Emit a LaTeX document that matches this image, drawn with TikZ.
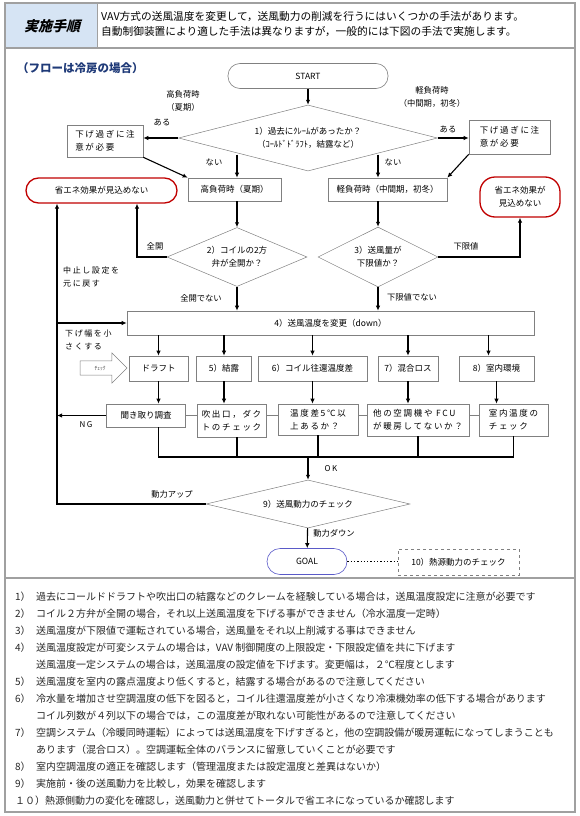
\documentclass[tikz,border=0pt]{standalone}
\usepackage{fontspec}
\setmainfont{Noto Sans CJK JP}
\newfontfamily\spaced{Noto Sans CJK JP}[LetterSpace=20]
\newfontfamily\titlefont{Noto Sans CJK JP}[FakeSlant=0.25]
\usetikzlibrary{arrows.meta,shapes.geometric,shapes.arrows}

\definecolor{frame}{HTML}{A0A0A0}
\definecolor{boxline}{HTML}{808080}
\definecolor{warnred}{HTML}{C00000}
\definecolor{goalblue}{HTML}{5A5AC8}
\definecolor{navy}{HTML}{1F3A78}
\definecolor{headbg}{HTML}{D6E4F4}

\newcommand{\numlbl}[1]{\makebox[21pt][l]{#1}}

\tikzset{
  box/.style={draw=boxline, line width=0.6pt, fill=white, inner sep=2pt,
    font=\fontsize{8.5}{13}\selectfont, align=center},
  boxsp/.style={box, font=\spaced\fontsize{8.5}{13}\selectfont, align=left},
  decision/.style={diamond, draw=boxline, line width=0.5pt, inner sep=0pt,
    font=\fontsize{8.5}{13}\selectfont, align=center},
  terminal/.style={draw=boxline, line width=0.6pt, rounded corners=12pt,
    font=\fontsize{8.5}{12}\selectfont},
  noeffect/.style={draw=warnred, line width=1.3pt, rounded corners=12.5pt,
    font=\fontsize{8.5}{13}\selectfont, align=center},
  flow/.style={line width=1.1pt},
  tie/.style={draw=boxline, line width=0.5pt},
  lbl/.style={font=\fontsize{8.3}{13}\selectfont, align=center, inner sep=1pt},
  lblsp/.style={lbl, font=\spaced\fontsize{8}{13}\selectfont},
  note/.style={anchor=west, inner sep=0pt, text=black!85,
    font=\fontsize{10}{12}\selectfont}
}

\begin{document}
\begin{tikzpicture}[x=1pt,y=-1pt,>={Latex[length=5pt,width=4.5pt]}]
\useasboundingbox (0,0) rectangle (580,816);
\fill[headbg] (5,3) rectangle (97,48);
\draw[frame, line width=1.2pt] (5,3) rectangle (575,812);
\draw[frame, line width=1.2pt] (5,48) -- (575,48);
\draw[frame, line width=1.2pt] (5,578) -- (575,578);
\draw[frame, line width=1pt] (97,3) -- (97,48);

\node[font=\titlefont\bfseries\fontsize{14}{16}\selectfont] (title) at (52,26) {実施手順};
\node[anchor=west, inner sep=0pt, align=left, font=\fontsize{10.7}{15}\selectfont] (intro) at (101,24.5)
  {VAV方式の送風温度を変更して，送風動力の削減を行うにはいくつかの手法があります。\\
   自動制御装置により適した手法は異なりますが，一般的には下図の手法で実施します。};
\node[anchor=west, inner sep=0pt, text=navy, font=\fontsize{11.5}{13}\selectfont\bfseries] (case) at (17,68)
  {（フローは冷房の場合）};

\node[terminal, minimum width=160pt, minimum height=25pt] (start) at (308,76) {START};
\node[decision, aspect=3.9, minimum width=259pt, minimum height=66pt] (q1) at (308,138)
  {1）過去にｸﾚｰﾑがあったか？\\（ｺｰﾙﾄﾞﾄﾞﾗﾌﾄ，結露など）};
\node[boxsp, minimum width=76pt, minimum height=32pt] (overL) at (105,141) {下げ過ぎに注\\意が必要};
\node[boxsp, minimum width=81pt, minimum height=34pt] (overR) at (509.5,137) {下げ過ぎに注\\意が必要};
\node[box, minimum width=93pt, minimum height=23pt] (high) at (234.5,189.5) {高負荷時（夏期）};
\node[box, minimum width=119pt, minimum height=23pt] (light) at (387.5,189.5) {軽負荷時（中間期，初冬）};
\node[noeffect, minimum width=151pt, minimum height=25pt] (lossL) at (101.5,190.5) {省エネ効果が見込めない};
\node[noeffect, minimum width=80pt, minimum height=40pt, rounded corners=15pt] (lossR) at (520,197)
  {省エネ効果が\\見込めない};
\node[decision, aspect=2.4, minimum width=140pt, minimum height=59pt] (q2) at (237,257) {2）コイルの2方\\弁が全開か？};
\node[decision, aspect=2, minimum width=120pt, minimum height=60pt] (q3) at (378,257) {3）送風量が\\下限値か？};
\node[box, minimum width=407pt, minimum height=24pt] (lower) at (330.5,323) {4）送風温度を変更（down）};

\node[single arrow, draw=boxline, line width=0.5pt, minimum height=47pt,
  single arrow head extend=8pt, inner xsep=2pt, inner ysep=4.5pt,
  text=black!70, font=\fontsize{5.5}{6}\selectfont] (chk) at (100,368) {ﾁｪｯｸ};
\node[box, minimum width=59pt, minimum height=25pt] (draft) at (158.5,368.5) {ドラフト};
\node[box, minimum width=55pt, minimum height=25pt] (dew) at (224,368.5) {5）結露};
\node[box, minimum width=109pt, minimum height=25pt] (coil) at (312.5,368.5) {6）コイル往還温度差};
\node[box, minimum width=60pt, minimum height=25pt] (mix) at (408,368.5) {7）混合ロス};
\node[box, minimum width=75pt, minimum height=25pt] (room) at (496.5,368.5) {8）室内環境};

\node[box, minimum width=79pt, minimum height=23pt] (hear) at (146,415.5) {聞き取り調査};
\node[boxsp, minimum width=69pt, minimum height=33pt] (duct) at (231.5,420.5) {吹出口，ダク\\トのチェック};
\node[boxsp, minimum width=80pt, minimum height=31pt] (dtemp) at (318,419.5) {温度差5℃以\\上あるか？};
\node[boxsp, minimum width=102pt, minimum height=32pt] (heating) at (418,420) {他の空調機や FCU\\が暖房してないか？};
\node[boxsp, minimum width=69pt, minimum height=32pt] (roomchk) at (513.5,420) {室内温度の\\チェック};

\coordinate (join) at (308,457);
\coordinate (rail) at (57,504);
\node[decision, aspect=4.25, minimum width=204pt, minimum height=48pt] (q9) at (308,504) {9）送風動力のチェック};
\node[terminal, draw=goalblue, minimum width=80pt, minimum height=26pt, rounded corners=13pt] (goal) at (307,561.5) {GOAL};
\node[box, dashed, minimum width=121pt, minimum height=26pt] (heatsrc) at (458.5,562) {10）熱源動力のチェック};

\draw[flow,->] (start) -- (q1);
\draw[flow,->] (q1.west) -- (q1.west -| overL.east);
\draw[flow,->] (q1.east) -- (q1.east -| overR.west);
\draw[flow,->] (q2 |- q1.south west) -- (q2 |- high.north);
\draw[flow,->] (q3 |- q1.south east) -- (q3 |- light.north);
\draw[flow,->] (overL.south east) -- (high.north west);
\draw[flow,->] (overR.south west) -- (light.north east);
\draw[flow,->] (q2 |- high.south) -- (q2);
\draw[flow,->] (q3 |- light.south) -- (q3);
\draw[flow,->] (q2.west) -| ([xshift=35.5pt]lossL.south);
\draw[flow,->] (q3.east) -| (lossR.south);
\draw[flow,->] (q2.south) -- (q2.south |- lower.north);
\draw[flow,->] (q3.south) -- (q3.south |- lower.north);
\draw[flow,->] (q9.west) -- (rail) -- (rail |- lossL.south);
\draw[flow,->] (rail |- lower.west) -- (lower.west);
\draw[flow,->] (hear.west) -- (hear.west -| rail);

\foreach \n in {draft,dew,coil,mix}
  \draw[flow,->] (\n.north |- lower.south) -- (\n.north);
\draw[flow,->] ([xshift=-8pt]room.north |- lower.south) -- ([xshift=-8pt]room.north);
\draw[flow,->] (draft) -- (draft |- hear.north);
\draw[flow,->] (dew) -- (dew |- duct.north);
\draw[flow,->] (coil) -- (coil |- dtemp.north);
\draw[flow,->] (mix) -- (mix |- heating.north);
\draw[flow,->] (room) -- (room |- roomchk.north);

\draw[tie] (hear.east) -- (hear.east -| duct.west);
\draw[tie] (hear.east -| duct.east) -- (hear.east -| dtemp.west);
\draw[tie] (hear.east -| dtemp.east) -- (hear.east -| heating.west);
\draw[tie] (hear.east -| heating.east) -- (hear.east -| roomchk.west);

\draw[flow] (draft |- hear.south) |- (join) -| (roomchk.south);
\draw[flow] (q2 |- duct.south) -- (q2 |- join);
\draw[flow] (dtemp.south) -- (dtemp.south |- join);
\draw[flow] (heating.south) -- (heating.south |- join);
\draw[flow,->] (join) -- (q9);
\draw[flow,->] (q9) -- (goal);
\draw[line width=1.3pt, dotted] (goal.east) -- (goal.east -| heatsrc.west);

\node[lbl] (hiload) at (183,100.5) {高負荷時\\（夏期）};
\node[lbl] (yesL) at (162,122) {ある};
\node[lbl] (loload) at (432,97) {軽負荷時\\（中間期，初冬）};
\node[lbl] (yesR) at (448,129) {ある};
\node[lbl] (noL) at (214,162) {ない};
\node[lbl] (noR) at (393,162) {ない};
\node[lbl] (fullL) at (155,246) {全開};
\node[lbl] (limit) at (466,246) {下限値};
\node[lblsp, anchor=west, align=left] (undo) at (62,276.5) {中止し設定を\\元に戻す};
\node[lbl] (notfull) at (201,298) {全開でない};
\node[lbl] (notlimit) at (412,297) {下限値でない};
\node[lblsp, anchor=west, align=left] (smaller) at (64,339.5) {下げ幅を小\\さくする};
\node[lblsp] (ng) at (86,425) {NG};
\node[lblsp] (ok) at (331,469) {OK};
\node[lbl] (up) at (172,494) {動力アップ};
\node[lbl] (down) at (334,533) {動力ダウン};

\foreach \t [count=\i] in {
  {\numlbl{1）}過去にコールドドラフトや吹出口の結露などのクレームを経験している場合は，送風温度設定に注意が必要です},
  {\numlbl{2）}コイル２方弁が全開の場合，それ以上送風温度を下げる事ができません（冷水温度一定時）},
  {\numlbl{3）}送風温度が下限値で運転されている場合，送風量をそれ以上削減する事はできません},
  {\numlbl{4）}送風温度設定が可変システムの場合は，VAV 制御開度の上限設定・下限設定値を共に下げます},
  {\hspace*{21pt}送風温度一定システムの場合は，送風温度の設定値を下げます。変更幅は，２℃程度とします},
  {\numlbl{5）}送風温度を室内の露点温度より低くすると，結露する場合があるので注意してください},
  {\numlbl{6）}冷水量を増加させ空調温度の低下を図ると，コイル往還温度差が小さくなり冷凍機効率の低下する場合があります},
  {\hspace*{21pt}コイル列数が４列以下の場合では，この温度差が取れない可能性があるので注意してください},
  {\numlbl{7）}空調システム（冷暖同時運転）によっては送風温度を下げすぎると，他の空調設備が暖房運転になってしまうことも},
  {\hspace*{21pt}あります（混合ロス）。空調運転全体のバランスに留意していくことが必要です},
  {\numlbl{8）}室内空調温度の適正を確認します（管理温度または設定温度と差異はないか）},
  {\numlbl{9）}実施前・後の送風動力を比較し，効果を確認します},
  {１０）熱源側動力の変化を確認し，送風動力と併せてトータルで省エネになっているか確認します}}
  \node[note] (note\i) at (15,580+17*\i) {\t};
\end{tikzpicture}
\end{document}
